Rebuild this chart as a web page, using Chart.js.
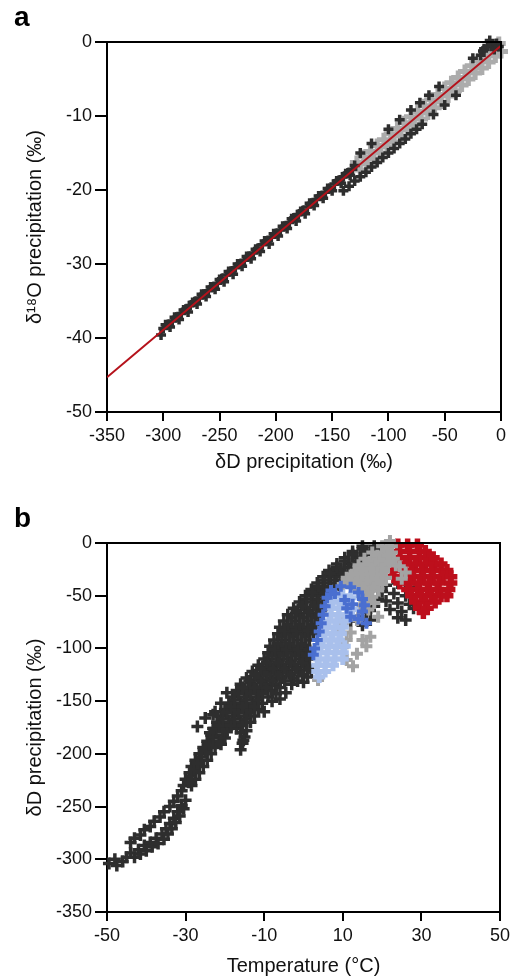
<!DOCTYPE html>
<html>
<head>
<meta charset="utf-8">
<script src="https://cdn.jsdelivr.net/npm/chart.js@4.4.1/dist/chart.umd.min.js"></script>
<style>
  body { margin: 0; background: #fff; }
  #page { position: relative; width: 518px; height: 979px; overflow: hidden; }
  .panel { position: absolute; left: 0; width: 518px; }
  .letter { position: absolute; left: 14px; font: bold 28px 'Liberation Sans', Arial, sans-serif; line-height: 1; color: #000; }
</style>
</head>
<body>
<div id="page">
  <div class="panel" style="top:0"><canvas id="chart-a" width="518" height="490"></canvas></div>
  <div class="panel" style="top:490px"><canvas id="chart-b" width="518" height="489"></canvas></div>
  <div class="letter" style="top:3px">a</div>
  <div class="letter" style="top:504px">b</div>
</div>
<script>
// ---- panel a : dD vs d18O ----
const aTicksX = [-350, -300, -250, -200, -150, -100, -50, 0];
const aTicksY = [-50, -40, -30, -20, -10, 0];

// regression line (end points)
const aLine = [[-350, -45.3], [0, -0.5]];

// dark crosses
const aDark = [
  [-302,-39.6],[-298,-38.2],[-294,-38.5],[-290,-37.2],[-286,-37.5],[-282,-36.2],[-278,-36.5],[-274,-35.2],
  [-270,-35.4],[-266,-34.1],[-262,-34.4],[-258,-33.1],[-254,-33.4],[-250,-32.1],[-246,-32.4],[-242,-31.0],
  [-238,-31.4],[-234,-30.0],[-230,-30.3],[-226,-29.0],[-222,-29.3],[-218,-28.0],[-214,-28.3],[-210,-26.9],
  [-206,-27.3],[-202,-25.9],[-198,-26.2],[-194,-24.9],[-190,-25.2],[-186,-23.9],[-182,-24.2],[-178,-22.9],
  [-174,-23.2],[-170,-21.8],[-166,-22.1],[-162,-20.8],[-158,-21.1],[-154,-19.8],[-150,-20.1],[-146,-18.8],
  [-142,-19.1],[-138,-17.8],[-134,-18.0],[-130,-16.7],
  // middle of the lower band
  [-300,-38.7],[-296,-38.2],[-292,-37.7],[-288,-37.2],[-284,-36.7],[-280,-36.1],[-276,-35.6],[-272,-35.1],
  [-268,-34.6],[-264,-34.1],[-260,-33.6],[-256,-33.1],[-252,-32.6],[-248,-32.0],[-244,-31.5],[-240,-31.0],
  [-236,-30.5],[-232,-30.0],[-228,-29.5],[-224,-29.0],[-220,-28.5],[-216,-27.9],[-212,-27.4],[-208,-26.9],
  [-204,-26.4],[-200,-25.9],[-196,-25.4],[-192,-24.9],[-188,-24.4],[-184,-23.8],[-180,-23.3],[-176,-22.8],
  [-172,-22.3],[-168,-21.8],[-164,-21.3],[-160,-20.8],[-156,-20.3],[-152,-19.8],[-148,-19.2],[-144,-18.7],
  [-140,-18.2],[-136,-17.7],[-132,-17.2],
  // lower edge of the upper part
  [-140,-20.1],[-135,-19.5],[-130,-18.8],[-125,-18.2],[-120,-17.6],[-115,-16.9],[-110,-16.3],[-105,-15.6],
  [-100,-15.0],[-95,-14.4],[-90,-13.7],[-85,-13.1],[-80,-12.4],[-75,-11.8],[-70,-11.1],[-60,-9.8],
  [-50,-8.5],[-40,-7.2],
  // upper edge
  [-125,-15.0],[-115,-13.7],[-100,-11.8],[-90,-10.5],[-80,-9.2],[-72,-8.2],[-64,-7.2],[-55,-6.0],
  [-25,-2.2],[-15,-0.9],
  // cluster near zero
  [-12,-0.6],[-8,-0.3],[-10,0.2],[-4,-0.2],[-16,-1.2],[-6,-1.0],[-18,-1.8],[-2,-0.6]
];

// light grey crosses
const aGray = [
  [-128,-16.3],[-125,-17.3],[-122,-15.5],[-119,-16.5],[-116,-14.8],[-113,-15.8],[-110,-14.0],[-107,-15.0],
  [-104,-13.2],[-101,-14.2],[-98,-12.4],[-95,-13.5],[-92,-11.7],[-89,-12.7],[-86,-10.9],[-83,-11.9],
  [-80,-10.1],[-77,-11.2],[-74,-9.4],[-71,-10.4],[-68,-8.6],[-65,-9.6],[-62,-7.8],[-59,-8.9],
  [-56,-7.1],[-53,-8.1],[-50,-6.3],[-47,-7.3],[-44,-5.5],[-41,-6.6],[-38,-4.8],[-35,-5.8],
  [-32,-4.0],[-29,-5.0],[-26,-3.2],[-23,-4.2],[-20,-2.5],[-17,-3.5],[-14,-1.7],[-11,-2.7],
  [-8,-0.9],[-5,-1.9],[-2,-0.2],[0,-1.3]
];

// ---- panel b : temperature vs dD ----
const bTicksX = [-50, -30, -10, 10, 30, 50];
const bTicksY = [-350, -300, -250, -200, -150, -100, -50, 0];

const bDark = [
  // lower strand of the loop
  [-49.5,-304],[-47.5,-306],[-48,-300],[-46,-302],[-45,-298],[-44,-294],[-43,-298],[-42,-291],[-41.5,-295],
  [-40.5,-287],[-40,-292],[-39,-284],[-38.5,-288],[-37.5,-280],[-37,-285],[-36,-276],[-35.5,-281],[-35,-271],
  [-34.5,-276],[-34,-266],[-33.5,-271],[-33,-261],[-32.5,-265],[-32,-255],[-31.5,-259],[-31,-249],[-30.5,-252],
  [-30,-244],
  // upper strand
  [-44,-284],[-43,-280],[-41.5,-277],[-40.5,-272],[-39,-269],[-38,-264],[-36.5,-260],[-35.5,-255],[-34,-250],
  [-33,-245],[-32,-240],[-31,-235],
  // main band
  [-30.5,-230],[-28.5,-230],[-30,-224],[-27.5,-224],[-29,-218],[-26.5,-218],[-28.5,-212],[-25.5,-212],
  [-27.5,-206],[-24.5,-206],[-26.5,-200],[-23.5,-200],[-25.5,-194],[-22.5,-194],[-16,-196],[-24.5,-188],
  [-21.5,-188],[-15.5,-190],[-23.5,-182],[-20.5,-182],[-15,-184],[-23,-176],[-20,-176],[-17,-176],[-14.5,-178],
  [-22,-170],[-19,-170],[-16,-170],[-13.5,-170],[-21,-164],[-18,-164],[-15,-164],[-12.5,-164],[-25,-166],
  [-20,-158],[-17,-158],[-14,-158],[-11.5,-158],[-22.5,-160],[-10,-160],[-19,-152],[-16,-152],[-13,-152],
  [-10.5,-152],[-21,-152],[-18,-146],[-15,-146],[-12,-146],[-9,-146],[-6,-148],[-17,-140],[-14,-140],
  [-11,-140],[-8,-140],[-4.5,-142],[-16,-134],[-13,-134],[-10,-134],[-7,-134],[-3,-134],[0,-132],
  [-14.5,-128],[-11.5,-128],[-8.5,-128],[-5.5,-128],[-2.5,-128],[1,-127],[-13,-122],[-10,-122],[-7,-122],
  [-4,-122],[-1,-122],[2,-121],[-11.5,-116],[-8.5,-116],[-5.5,-116],[-2.5,-116],[0.5,-116],[-10,-110],
  [-7,-110],[-4,-110],[-1,-110],[1.5,-110],[-9,-104],[-6,-104],[-3,-104],[0,-104],[2,-104],[-8.5,-98],
  [-5.5,-98],[-2.5,-98],[0.5,-98],[-7.5,-92],[-4.5,-92],[-1.5,-92],[1.5,-92],[-6.5,-86],[-3.5,-86],
  [-0.5,-86],[2.5,-86],[-6,-80],[-3,-80],[0,-80],[3,-80],[-5,-74],[-2,-74],[1,-74],[4,-74],[-4,-68],
  [-1,-68],[2,-68],[5,-68],[-2.5,-62],[0.5,-62],[3.5,-62],[5.5,-62],[-1,-56],[2,-56],[5,-56],[7,-56],
  [0.5,-50],[3.5,-50],[6.5,-50],[2,-44],[5,-44],[8,-44],[3.5,-38],[6.5,-38],[9.5,-38],[5,-32],[8,-32],
  [11,-32],[6.5,-26],[9.5,-26],[12.5,-26],[8.5,-20],[11.5,-20],[14.5,-20],[10.5,-14],[13.5,-14],[16.5,-14],
  [12.5,-8],[15.5,-8],[18.5,-8],[15,-3],[18,-3],[21,-3],
  // in-between rows filling the band
  [-29.3,-227],[-28.5,-221],[-27.8,-215],[-27,-209],[-26,-203],[-25,-197],[-24,-191],[-21,-191],
  [-23,-185],[-20,-185],[-15.3,-187],[-22.3,-179],[-19.5,-179],[-16,-180],[-21.5,-173],[-18.5,-173],
  [-15.5,-173],[-20.5,-167],[-17.5,-167],[-14.5,-167],[-19.5,-161],[-16.5,-161],[-13.5,-161],
  [-18.5,-155],[-15.5,-155],[-12.5,-155],[-17.5,-149],[-14.5,-149],[-11.5,-149],[-8,-150],
  [-16.5,-143],[-13.5,-143],[-10.5,-143],[-7,-143],[-15.5,-137],[-12.5,-137],[-9.5,-137],[-6,-137],
  [-13.8,-131],[-10.8,-131],[-7.8,-131],[-4.8,-131],[-1.5,-131],[-12.3,-125],[-9.3,-125],[-6.3,-125],
  [-3.3,-125],[-0.3,-125],[-10.8,-119],[-7.8,-119],[-4.8,-119],[-1.8,-119],[1.2,-119],[-9.3,-113],
  [-6.3,-113],[-3.3,-113],[-0.3,-113],[-8,-107],[-5,-107],[-2,-107],[0.8,-107],[-7.3,-101],[-4.3,-101],
  [-1.3,-101],[1.3,-101],[-6.5,-95],[-3.5,-95],[-0.5,-95],[-5.5,-89],[-2.5,-89],[0.5,-89],[-4.8,-83],
  [-1.8,-83],[1.2,-83],[-4,-77],[-1,-77],[2,-77],[-3,-71],[0,-71],[3,-71],[-1.8,-65],[1.3,-65],[4.3,-65],
  [-0.3,-59],[2.8,-59],[5.8,-59],[0.8,-53],[3.8,-53],[2.3,-47],[5.3,-47],[3.8,-41],[6.8,-41],[5.3,-35],
  [8.3,-35],[6.8,-29],[9.8,-29],[8.5,-23],[11.5,-23],[10.5,-17],[13.5,-17],[12.5,-11],[15.5,-11],
  [15,-5.5],[18,-5.5],
  // loose crosses left of the band
  [-23.8,-180],[-23,-163],[-19.5,-142],[-27,-174],
  // cluster under the grey and red
  [18.5,-40],[21,-40],[24,-38],[27,-42],[20,-46],[23,-48],[26,-50],[19,-53],[21,-55],[24,-57],[27,-58],
  [22,-63],[25,-65],[28,-62],[24,-71],[26,-73],[18,-60],[16,-66],[14,-70],[17,-73],[12,-74],[15,-78]
];

const bGray = [
  [20,-3],[22.5,-3],[17.5,-9],[20,-9],[22.5,-9],[15.5,-15],[18,-15],[20.5,-15],[23,-15],[14,-21],
  [16.5,-21],[19,-21],[21.5,-21],[23.5,-21],[13,-27],[15.5,-27],[18,-27],[20.5,-27],[11,-33],[13.5,-33],
  [16,-33],[18.5,-33],[21,-33],[10,-39],[12.5,-39],[15,-39],[17.5,-39],[20,-39],[14,-45],[16.5,-45],
  [19,-45],[15,-51],[17.5,-51],[15.5,-57],[18,-57],[14,-63],[16.5,-63],
  // in-between rows
  [21.2,-6],[18.8,-12],[21.3,-12],[16.8,-18],[19.3,-18],[21.8,-18],[14.8,-24],[17.3,-24],[19.8,-24],
  [12.3,-30],[14.8,-30],[17.3,-30],[19.8,-30],[11.3,-36],[13.8,-36],[16.3,-36],[18.8,-36],
  [15.3,-42],[17.8,-42],[16.3,-48],[16.5,-54],
  [24.5,-22],[26,-28],[25,-34],
  [10,-76],[13.6,-73],[12,-85],[15,-92],[17,-89],[10,-99],[13.6,-105],[11,-111],[12.6,-117],[3.7,-130],
  [8.5,-82],[19,-70],[11,-92],[16,-98],[22,2]
];

const bBlue = [
  [7,-45],[9.5,-41],[12,-42],[14,-47],[15,-53],[15.5,-59],[15,-65],[14,-72],[12,-70],[11,-62],[10.5,-54],
  [12.5,-58],[6,-52],[5.5,-60],[5,-68],[4.5,-76],[4,-84],[3.5,-92],[2.8,-100],[2.5,-106],[16,-76],[8,-48]
];

const bLightBlue = [
  [8,-50],[10,-50],[7.5,-56],[9.5,-56],[7,-62],[9,-62],[7,-68],[9,-68],[11,-68],[6.5,-74],[8.5,-74],
  [10.5,-74],[6,-80],[8,-80],[10,-80],[5.5,-86],[7.5,-86],[9.5,-86],[5,-92],[7,-92],[9,-92],[4.5,-98],
  [6.5,-98],[8.5,-98],[10.5,-98],[4,-104],[6,-104],[8,-104],[10,-104],[4,-110],[6,-110],[8,-110],
  [10,-110],[3.5,-116],[5.5,-116],[7.5,-116],[3.5,-122],[5.5,-122],[4,-127],[12.5,-63],[12,-52]
];

const bRed = [
  [24,-2],[26.5,-2],[29,-2],[24.5,-8],[27,-8],[29.5,-8],[31,-8],[24.5,-14],[27,-14],[29.5,-14],[32,-14],
  [33,-14],[23.5,-20],[26,-20],[28.5,-20],[31,-20],[33.5,-20],[35,-20],[22.5,-26],[25,-26],[27.5,-26],
  [30,-26],[32.5,-26],[35,-26],[36.5,-26],[23,-32],[25.5,-32],[28,-32],[30.5,-32],[33,-32],[35.5,-32],
  [37.5,-32],[24.5,-38],[27,-38],[29.5,-38],[32,-38],[34.5,-38],[37.5,-38],[26.5,-44],[29,-44],[31.5,-44],
  [34,-44],[37,-44],[27.5,-50],[30,-50],[32.5,-50],[35,-50],[36.5,-50],[28.5,-56],[31,-56],[33.5,-56],
  [29.5,-62],[31.5,-62],[30.5,-66]
];

const FONT = "'Liberation Sans', Arial, Helvetica, sans-serif";
Chart.defaults.font.family = FONT;
Chart.defaults.color = '#111';

const toXY = arr => arr.map(p => ({ x: p[0], y: p[1] }));

const crosses = (data, color, radius, width) => ({
  type: 'scatter',
  data: toXY(data),
  pointStyle: 'cross',
  pointRadius: radius,
  pointBorderWidth: width,
  borderColor: color,
  backgroundColor: color,
  clip: false
});

// draws the top and right side of the frame
const frame = {
  id: 'frame',
  afterDraw(chart) {
    const { ctx, chartArea: a } = chart;
    ctx.save();
    ctx.strokeStyle = '#000';
    ctx.lineWidth = 2;
    ctx.beginPath();
    ctx.moveTo(a.left, a.top);
    ctx.lineTo(a.right, a.top);
    ctx.lineTo(a.right, a.bottom);
    ctx.stroke();
    ctx.restore();
  }
};

const axis = (min, max, ticks, title, tickLength, extra) => Object.assign({
  type: 'linear',
  min, max,
  border: { display: true, color: '#000', width: 2 },
  grid: { drawOnChartArea: false, drawTicks: true, tickLength, color: '#000', lineWidth: 2 },
  ticks: { font: { size: 18 }, color: '#111', autoSkip: false, maxRotation: 0 },
  afterBuildTicks: s => { s.ticks = ticks.map(v => ({ value: v })); },
  title: { display: true, text: title, color: '#111', font: { size: 20 } }
}, extra);

const commonOpts = {
  responsive: false,
  animation: false,
  events: [],
  plugins: { legend: { display: false }, tooltip: { enabled: false } }
};

// --- chart a ---
new Chart(document.getElementById('chart-a'), {
  data: {
    datasets: [
      {
        type: 'line',
        data: toXY(aLine),
        borderColor: '#b5121b',
        borderWidth: 2,
        pointRadius: 0,
        fill: false
      },
      crosses(aDark, '#2e2e2e', 5, 3.5),
      crosses(aGray, '#acacac', 7, 5)
    ]
  },
  options: Object.assign({}, commonOpts, {
    layout: { padding: { top: 42, right: 17, left: 0, bottom: 0 } },
    scales: {
      x: axis(-350, 0, aTicksX, 'δD precipitation (‰)', 9, {
        position: 'bottom',
        afterFit: s => { s.height = 78; }
      }),
      y: axis(-50, 0, aTicksY, 'δ¹⁸O precipitation (‰)', 12, {
        position: 'left',
        afterFit: s => { s.width = 107; }
      })
    }
  }),
  plugins: [frame]
});

// fine tune tick/title paddings
const chartA = Chart.getChart('chart-a');
chartA.options.scales.x.ticks.padding = 4;
chartA.options.scales.x.title.padding = { top: 4, bottom: 16 };
chartA.options.scales.y.ticks.padding = 3;
chartA.options.scales.y.title.padding = { top: 23, bottom: 0 };
chartA.update();

// --- chart b ---
const chartB = new Chart(document.getElementById('chart-b'), {
  data: {
    datasets: [
      crosses(bBlue, '#4a6fd0', 5.5, 4),
      crosses(bLightBlue, '#a9c0ec', 6, 5),
      crosses(bGray, '#a3a3a3', 6, 4),
      crosses(bRed, '#bd0f1c', 6.5, 5.5),
      crosses(bDark, '#2e2e2e', 6, 3.5)
    ]
  },
  options: Object.assign({}, commonOpts, {
    layout: { padding: { top: 53, right: 18, left: 0, bottom: 0 } },
    scales: {
      x: axis(-50, 50, bTicksX, 'Temperature (°C)', 9, {
        position: 'bottom',
        afterFit: s => { s.height = 67; }
      }),
      y: axis(-350, 0, bTicksY, 'δD precipitation (‰)', 12, {
        position: 'left',
        afterFit: s => { s.width = 107; }
      })
    }
  }),
  plugins: [frame]
});
chartB.options.scales.x.ticks.padding = 4;
chartB.options.scales.x.title.padding = { top: 4, bottom: 1 };
chartB.options.scales.y.ticks.padding = 3;
chartB.options.scales.y.title.padding = { top: 23, bottom: 0 };
chartB.update();
</script>
</body>
</html>
